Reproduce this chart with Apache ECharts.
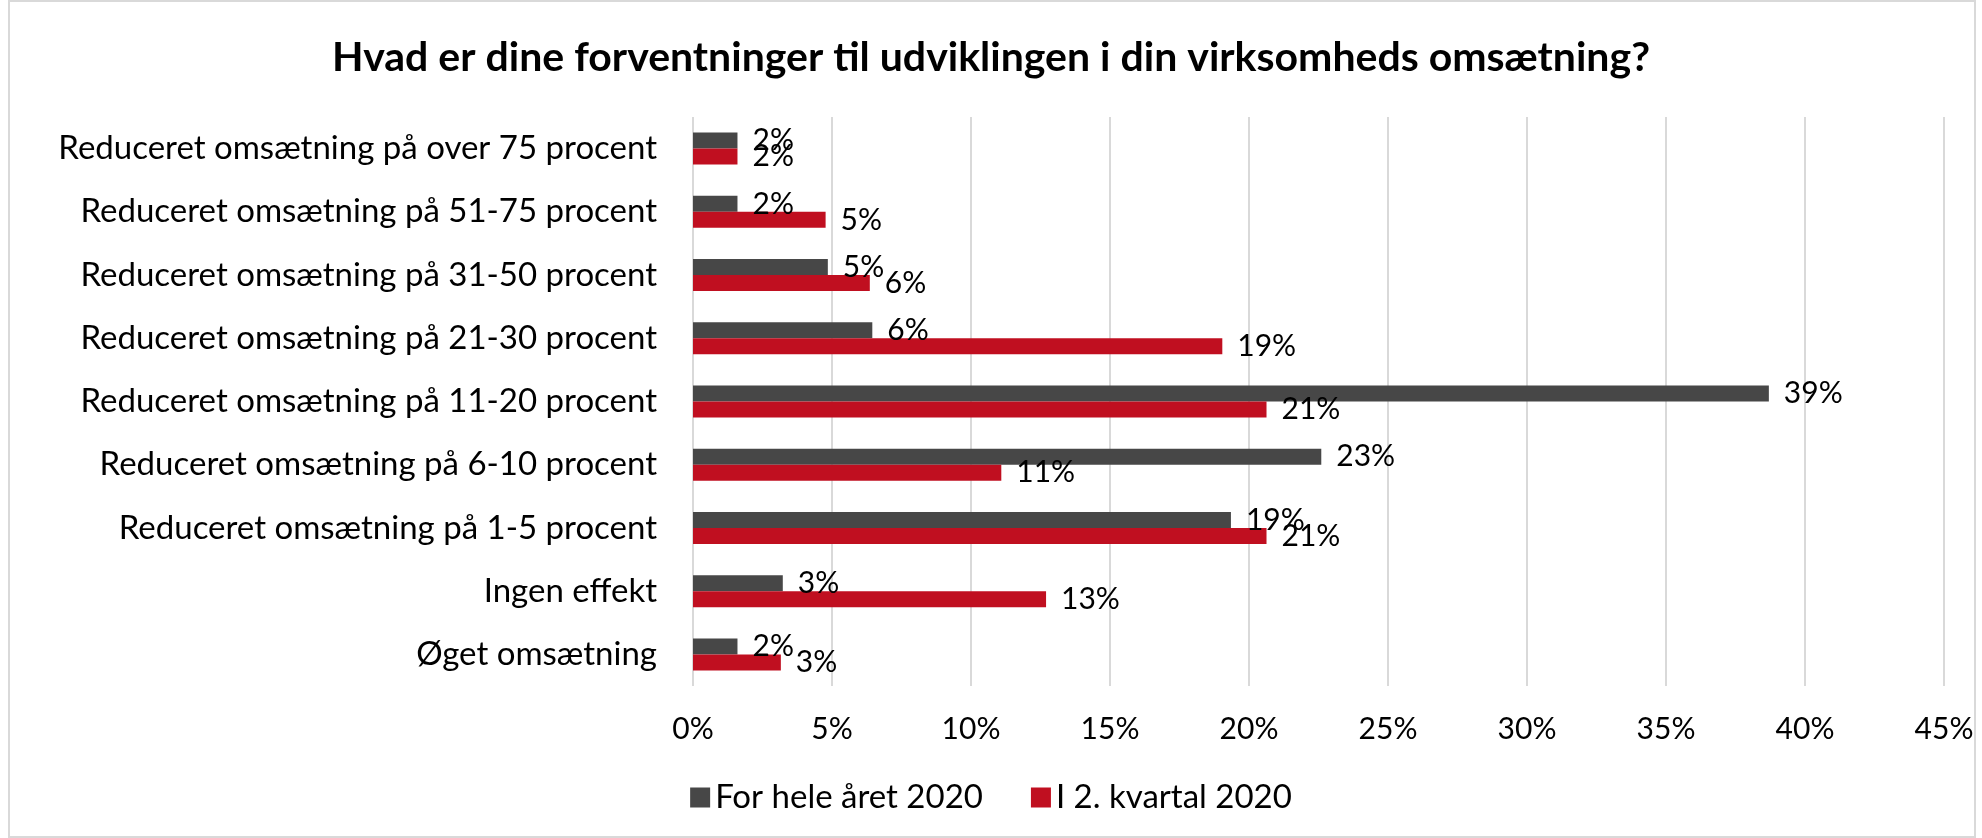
<!DOCTYPE html>
<html>
<head>
<meta charset="utf-8">
<script src="https://cdn.jsdelivr.net/npm/echarts@6/dist/echarts.min.js"></script>
<style>
  html, body { margin: 0; padding: 0; background: #fff; }
  #chart { width: 1982px; height: 838px; }
</style>
</head>
<body>
<div id="chart"></div>
<script>
var categories = [
  'Reduceret omsætning på over 75 procent',
  'Reduceret omsætning på 51-75 procent',
  'Reduceret omsætning på 31-50 procent',
  'Reduceret omsætning på 21-30 procent',
  'Reduceret omsætning på 11-20 procent',
  'Reduceret omsætning på 6-10 procent',
  'Reduceret omsætning på 1-5 procent',
  'Ingen effekt',
  'Øget omsætning'
];
var seriesNames = ['For hele året 2020', 'I 2. kvartal 2020'];
var heleAaret = [1.6, 1.6, 4.85, 6.45, 38.7, 22.6, 19.35, 3.23, 1.6];
var kvartal2 = [1.6, 4.77, 6.36, 19.04, 20.63, 11.09, 20.63, 12.7, 3.16];
var tickValues = [0, 5, 10, 15, 20, 25, 30, 35, 40, 45];

var FONT = 'Lato';

var chart = echarts.init(document.getElementById('chart'));

function pct(p) { return Math.round(p.value) + '%'; }

var labelStyle = {
  show: true,
  position: 'right',
  distance: 15,
  formatter: pct,
  fontFamily: FONT,
  fontSize: 30,
  color: '#000'
};

var option = {
  backgroundColor: '#fff',
  animation: false,
  title: {
    text: 'Hvad er dine forventninger til udviklingen i din virksomheds omsætning?',
    left: 'center',
    top: 32,
    textStyle: { fontFamily: FONT, fontWeight: 'bold', fontSize: 41, color: '#000' }
  },
  legend: {
    data: seriesNames,
    bottom: 19,
    left: 'center',
    itemWidth: 20,
    itemHeight: 20,
    itemGap: 48,
    icon: 'rect',
    textStyle: { fontFamily: FONT, fontSize: 33, color: '#000' }
  },
  grid: { left: 693, right: 38, top: 117, bottom: 152 },
  xAxis: {
    type: 'value',
    min: 0,
    max: 45,
    interval: 5,
    axisLine: { show: false },
    axisTick: { show: false },
    axisLabel: {
      margin: 28,
      fontFamily: FONT, fontSize: 30, color: '#000',
      formatter: function (v) { return tickValues.indexOf(v) >= 0 ? v + '%' : ''; }
    },
    splitLine: { show: true, lineStyle: { color: '#d9d9d9', width: 2 } }
  },
  yAxis: {
    type: 'category',
    data: categories,
    inverse: true,
    axisLine: { show: false },
    axisTick: { show: false },
    axisLabel: { margin: 36, fontFamily: FONT, fontSize: 33, color: '#000' }
  },
  series: [
    {
      name: seriesNames[0],
      type: 'bar',
      data: heleAaret,
      barWidth: 16,
      barGap: '0%',
      itemStyle: { color: '#474747' },
      label: labelStyle
    },
    {
      name: seriesNames[1],
      type: 'bar',
      data: kvartal2,
      barWidth: 16,
      barGap: '0%',
      itemStyle: { color: '#c00f20' },
      label: labelStyle
    }
  ],
  graphic: [{
    type: 'rect',
    shape: { x: 9, y: 1, width: 1966, height: 836 },
    style: { fill: null, stroke: '#d9d9d9', lineWidth: 2 },
    silent: true
  }]
};

chart.setOption(option);
</script>
</body>
</html>
